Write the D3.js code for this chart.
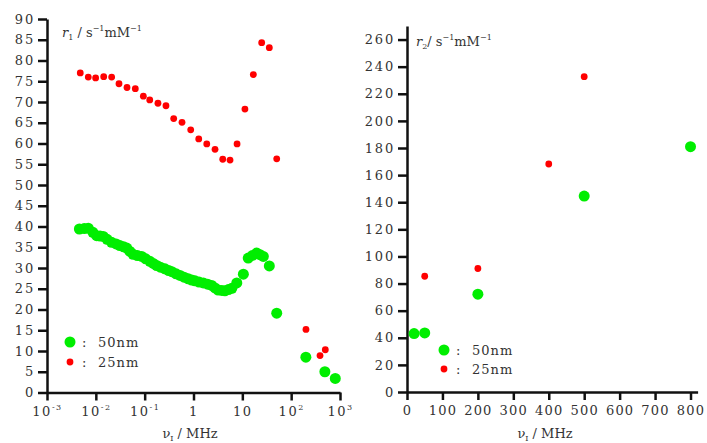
<!DOCTYPE html>
<html><head><meta charset="utf-8">
<script src="https://cdn.jsdelivr.net/npm/d3@7"></script>
<style>
body{margin:0;background:#fff}
svg text{font-family:"DejaVu Serif","Liberation Serif",serif;fill:#333}
</style></head>
<body><svg id="c" width="707" height="443"></svg>
<script>
// ---- data: left panel r1 vs frequency (MHz, log scale)
const r1_50nm_freq = [0.0046,0.0058,0.0070,0.0087,0.0104,0.0122,0.0142,0.017,0.021,0.026,0.031,0.037,0.043,0.050,0.058,0.071,0.087,0.105,0.128,0.15,0.176,0.21,0.26,0.31,0.36,0.44,0.53,0.64,0.78,0.92,1.07,1.3,1.59,1.95,2.36,2.75,3.2,3.8,4.4,5.2,6.1,7.7,10.5,13.2,16.0,19.7,23.0,26.9,35.7,50.6,200,490,800];
const r1_50nm_val  = [39.4,39.5,39.6,38.6,37.8,37.7,37.6,36.9,36.2,35.8,35.4,35.1,34.8,34.0,33.3,33.0,32.8,32.2,31.6,31.1,30.6,30.2,29.8,29.4,29.1,28.6,28.2,27.8,27.4,27.1,26.9,26.6,26.4,26.1,25.8,25.2,24.7,24.6,24.5,24.8,25.1,26.4,28.5,32.4,33.0,33.6,33.2,32.8,30.5,19.1,8.5,5.0,3.4];
const r1_25nm_freq = [0.0048,0.0070,0.0099,0.0145,0.0211,0.0298,0.0435,0.0643,0.094,0.127,0.187,0.273,0.393,0.582,0.877,1.28,1.87,2.76,3.97,5.6,7.8,11.3,16.8,24.9,35.7,50.6,201,390,500];
const r1_25nm_val  = [77.0,76.0,75.8,76.1,76.0,74.4,73.5,73.2,71.4,70.5,69.7,69.1,66.0,65.1,63.3,61.1,59.9,58.6,56.2,56.0,59.9,68.3,76.6,84.3,83.1,56.3,15.2,8.9,10.3];
// ---- data: right panel r2 vs frequency (MHz, linear)
const r2_50nm_freq = [20,50,200,500,800];
const r2_50nm_val  = [43.1,43.6,72.2,144.5,181];
const r2_25nm_freq = [50,200,400,500];
const r2_25nm_val  = [85.4,91.1,168.2,232.6];
// ---- ticks
const leftYTicks = d3.range(0,91,5);
const leftXTicks = [1e-3,1e-2,1e-1,1,10,100,1000];
const leftXLabels = [["10","-3"],["10","-2"],["10","-1"],["1",""],["10",""],["10","2"],["10","3"]];
const rightYTicks = d3.range(0,261,20);
const rightXTicks = d3.range(0,801,100);
const seriesNames = ["50nm","25nm"];
const GREEN="#00ee00", RED="#ff0000";

const svg = d3.select("#c");

function styleAxis(g){
  g.select(".domain").attr("stroke","#111").attr("stroke-width",2.5);
  g.selectAll(".tick line").attr("stroke","#111").attr("stroke-width",2.5);
  g.selectAll(".tick text").attr("fill","#333").style("font-size","13px").style("letter-spacing","1.8px");
}

// ---------- LEFT PANEL
const xL = d3.scaleLog().domain([1e-3,1e3]).range([47,340]);
const yL = d3.scaleLinear().domain([0,90]).range([392.5,19]);

const gyL = svg.append("g").attr("transform","translate(47,0)")
  .call(d3.axisLeft(yL).tickValues(leftYTicks).tickSize(9).tickSizeOuter(0).tickPadding(3));
styleAxis(gyL);
const gxL = svg.append("g").attr("transform","translate(0,392.5)")
  .call(d3.axisBottom(xL).tickValues(leftXTicks).tickSize(8).tickSizeOuter(0).tickFormat(""));
styleAxis(gxL);
gxL.selectAll(".tick").each(function(d,i){
  const t = d3.select(this).append("text").attr("y",23).attr("text-anchor","middle")
    .style("font-size","13px").style("letter-spacing","1.5px").attr("fill","#333");
  t.append("tspan").text(leftXLabels[i][0]);
  if(leftXLabels[i][1]) t.append("tspan").attr("dy",-6).style("font-size","8px").text(leftXLabels[i][1]);
});

svg.append("g").selectAll("circle").data(r1_50nm_freq).join("circle")
  .attr("cx",d=>xL(d)).attr("cy",(d,i)=>yL(r1_50nm_val[i])).attr("r",5.5).attr("fill",GREEN);
svg.append("g").selectAll("circle").data(r1_25nm_freq).join("circle")
  .attr("cx",d=>xL(d)).attr("cy",(d,i)=>yL(r1_25nm_val[i])).attr("r",3.4).attr("fill",RED);

// label r1
const t1 = svg.append("text").attr("x",62).attr("y",37).style("font-size","13px");
t1.append("tspan").style("font-style","italic").text("r");
t1.append("tspan").attr("dy",3).style("font-size","8px").text("1");
t1.append("tspan").attr("dy",-3).text(" / s");
t1.append("tspan").attr("dy",-6).style("font-size","8px").text("−1");
t1.append("tspan").attr("dy",6).text("mM");
t1.append("tspan").attr("dy",-6).style("font-size","8px").text("−1");

// x label left
const xt1 = svg.append("text").attr("x",190).attr("y",438).attr("text-anchor","middle").style("font-size","13px");
xt1.append("tspan").text("ν");
xt1.append("tspan").attr("dy",3).style("font-size","8px").text("I");
xt1.append("tspan").attr("dy",-3).text(" / MHz");

function legend(x,y,gap){
  [[GREEN,5.5],[RED,3.4]].forEach((c,i)=>{
    const yy=y+i*gap;
    svg.append("circle").attr("cx",x).attr("cy",yy).attr("r",c[1]).attr("fill",c[0]);
    svg.append("text").attr("x",x+12).attr("y",yy+4.5).style("font-size","13px").text(":");
    svg.append("text").attr("x",x+28).attr("y",yy+4.5).style("font-size","13px").style("letter-spacing","1px").text(seriesNames[i]);
  });
}
legend(70,342,20);

// ---------- RIGHT PANEL
const xR = d3.scaleLinear().domain([0,820]).range([407,697.6]);
const yR = d3.scaleLinear().domain([0,270]).range([392,26]);

const gyR = svg.append("g").attr("transform","translate(407,0)")
  .call(d3.axisLeft(yR).tickValues(rightYTicks).tickSize(9).tickSizeOuter(0).tickPadding(3));
styleAxis(gyR);
const gxR = svg.append("g").attr("transform","translate(0,392)")
  .call(d3.axisBottom(xR).tickValues(rightXTicks).tickSize(8).tickSizeOuter(0).tickPadding(6));
styleAxis(gxR);
gxR.selectAll(".tick text").style("letter-spacing","1.2px");

svg.append("g").selectAll("circle").data(r2_50nm_freq).join("circle")
  .attr("cx",d=>xR(d)).attr("cy",(d,i)=>yR(r2_50nm_val[i])).attr("r",5.5).attr("fill",GREEN);
svg.append("g").selectAll("circle").data(r2_25nm_freq).join("circle")
  .attr("cx",d=>xR(d)).attr("cy",(d,i)=>yR(r2_25nm_val[i])).attr("r",3.4).attr("fill",RED);

const t2 = svg.append("text").attr("x",416).attr("y",46).style("font-size","13px");
t2.append("tspan").style("font-style","italic").text("r");
t2.append("tspan").attr("dy",3).style("font-size","8px").text("2");
t2.append("tspan").attr("dy",-3).text("/ s");
t2.append("tspan").attr("dy",-6).style("font-size","8px").text("−1");
t2.append("tspan").attr("dy",6).text("mM");
t2.append("tspan").attr("dy",-6).style("font-size","8px").text("−1");

const xt2 = svg.append("text").attr("x",545).attr("y",438).attr("text-anchor","middle").style("font-size","13px");
xt2.append("tspan").text("ν");
xt2.append("tspan").attr("dy",3).style("font-size","8px").text("I");
xt2.append("tspan").attr("dy",-3).text(" / MHz");

legend(444,350,19);
</script></body></html>
